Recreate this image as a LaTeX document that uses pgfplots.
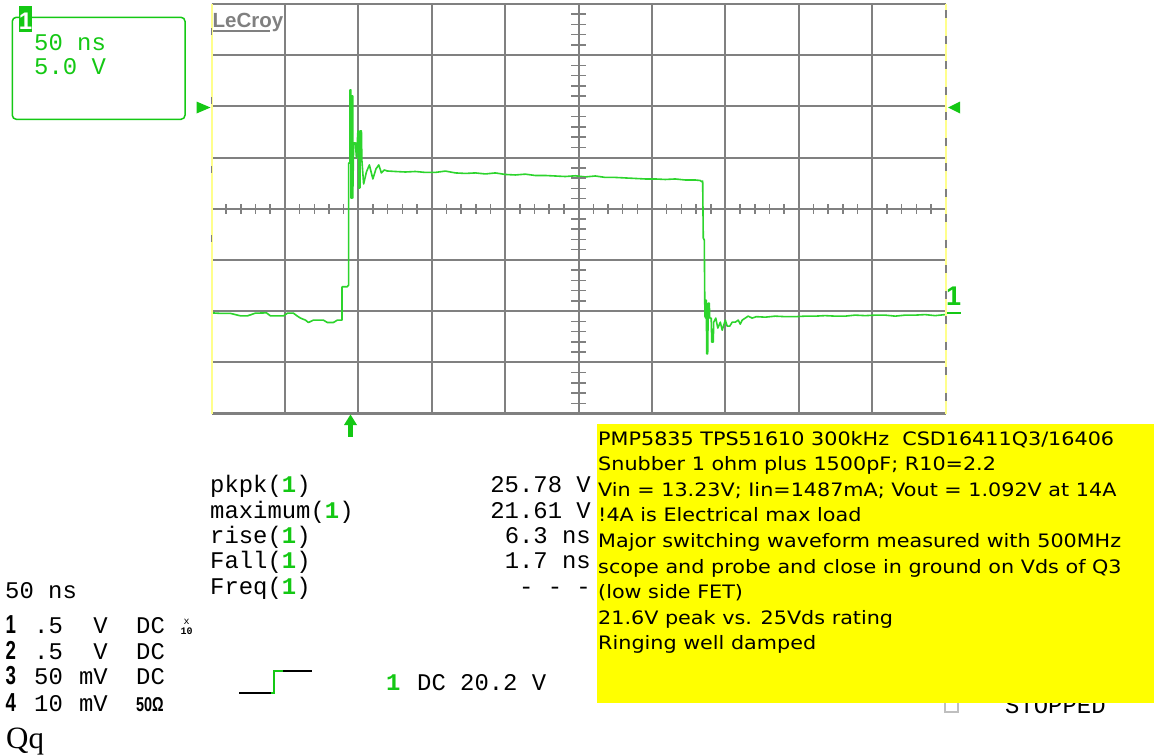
\documentclass[border=0pt]{standalone}
\usepackage{pgfplots}
\pgfplotsset{compat=1.18}
\usepackage{fontspec}
\setmainfont{Liberation Sans}
\newfontfamily\scope{Liberation Mono}
\newfontfamily\boxfont[FakeStretch=1.12]{DejaVu Sans}
\newfontfamily\serifq{Liberation Serif}
\newfontfamily\numfont[FakeStretch=0.72]{Liberation Sans}
\definecolor{gridgray}{RGB}{128,128,128}
\definecolor{bordyellow}{RGB}{255,255,140}
\definecolor{tracegreen}{RGB}{45,212,45}
\definecolor{mkgreen}{RGB}{20,200,20}
\definecolor{boxyellow}{RGB}{255,255,0}
\begin{document}
\begin{tikzpicture}
\useasboundingbox[fill=white] (0pt,0pt) rectangle (1154pt,-755pt);
% grid / axis
\begin{axis}[at={(211.5pt,-413.5pt)}, anchor=south west, scale only axis,
  width=734.2pt, height=409.5pt,
  xmin=-250, xmax=250, ymin=-10, ymax=30,
  xtick={-200,-150,...,200}, ytick={-5,0,...,25},
  xticklabels={}, yticklabels={}, major tick length=0pt,
  grid=major, grid style={gridgray, line width=2.1pt},
  axis line style={draw=none}, clip=false]
\draw[gridgray, line width=2.1pt] (rel axis cs:0,1) -- (rel axis cs:1,1);
\draw[gridgray, line width=2.1pt] (rel axis cs:0,0) -- (rel axis cs:1,0);
\addplot[tracegreen, line width=1.6pt, line join=round] coordinates {
(-249.7,-0.17) (-243.9,-0.22) (-237.1,-0.22) (-230.3,-0.46) (-225.5,-0.46)
(-220.1,-0.20) (-212.6,-0.17) (-209.9,-0.46) (-201.0,-0.46) (-198.3,-0.20)
(-194.2,-0.20) (-191.5,-0.49) (-189.4,-0.68) (-186.0,-0.88) (-184.0,-1.11)
(-180.6,-0.88) (-173.8,-0.88) (-171.1,-1.11) (-167.0,-1.11) (-164.3,-0.88)
(-161.1,-0.88) (-161.1,2.38) (-157.6,2.38) (-156.6,2.54) (-156.6,14.47)
(-155.7,14.47) (-155.7,21.61) (-155.1,21.61) (-155.1,11.05) (-154.4,11.05)
(-154.4,21.03) (-153.8,21.03) (-153.8,11.05) (-153.2,16.43) (-152.0,16.43)
(-151.3,14.96) (-150.3,17.60) (-149.8,17.60) (-149.8,12.03) (-148.9,12.03)
(-148.9,17.60) (-147.9,17.60) (-147.6,14.77) (-146.4,12.42) (-144.5,13.59)
(-142.5,14.28) (-140.1,12.91) (-138.0,13.89) (-136.1,14.28) (-134.3,13.50)
(-132.3,13.79) (-130.4,13.69)
(-124.8,13.64) (-118.0,13.59) (-111.2,13.64) (-104.4,13.55) (-97.5,13.55)
(-90.7,13.68) (-83.9,13.50) (-77.1,13.45) (-70.3,13.50) (-63.5,13.40)
(-56.7,13.50) (-49.9,13.35) (-43.1,13.30) (-36.3,13.38) (-29.5,13.25)
(-22.7,13.25) (-15.9,13.20) (-9.1,13.15) (-2.2,13.22) (4.6,13.11)
(11.4,13.20) (18.2,13.06) (25.0,13.06) (31.8,13.01) (38.6,12.96)
(45.4,12.91) (52.2,12.91) (59.0,12.86) (65.8,12.91) (72.6,12.81)
(79.4,12.81) (82.8,12.76) (84.2,12.62) (84.5,12.71)
(84.9,7.14) (85.6,6.94) (86.0,-0.49) (86.6,-0.68) (86.9,1.08)
(87.3,-4.17) (87.9,-4.17) (88.3,0.78) (89.0,0.78) (89.3,-0.68)
(90.3,-0.68) (90.7,-3.03) (91.7,-3.03) (92.0,-1.08) (93.4,-0.68)
(94.8,-1.66) (96.5,-1.08) (97.8,-1.86) (99.9,-0.88) (101.2,-1.47)
(102.9,-1.47) (104.6,-1.08) (106.7,-1.08) (108.7,-0.88) (110.1,-1.27)
(111.4,-0.88) (113.5,-0.68) (115.5,-0.49) (118.2,-0.68) (121.0,-0.54)
(127.1,-0.59) (133.9,-0.49) (140.7,-0.54) (147.5,-0.54) (154.3,-0.49)
(161.1,-0.49) (167.9,-0.44) (174.7,-0.49) (181.5,-0.49) (188.3,-0.39)
(195.2,-0.44) (202.0,-0.39) (208.8,-0.39) (215.6,-0.49) (222.4,-0.39)
(229.2,-0.39) (236.0,-0.34) (242.8,-0.44) (249.6,-0.34)
};
\end{axis}
% yellow side borders with gray dashes
\draw[bordyellow, line width=2pt] (211.5pt,-4pt) -- (211.5pt,-413.5pt);
\draw[bordyellow, line width=2pt] (945.7pt,-4pt) -- (945.7pt,-413.5pt);
\draw[gridgray, line width=1.8pt, dash pattern=on 8pt off 17.5pt] (945.7pt,-10pt) -- (945.7pt,-405pt);
\draw[gridgray, line width=1.8pt, dash pattern=on 7pt off 62pt] (211.5pt,-28pt) -- (211.5pt,-300pt);
% centre cross minor ticks
\foreach \k in {1,...,49}{
  \pgfmathtruncatemacro{\r}{mod(\k,5)}
  \pgfmathsetmacro{\xx}{211.5+\k*14.684}
  \ifnum\r=0\relax\else
  \draw[gridgray, line width=1.5pt] (\xx pt,-204pt) -- (\xx pt,-214pt);
  \fi}
\foreach \k in {1,...,39}{
  \pgfmathtruncatemacro{\r}{mod(\k,5)}
  \pgfmathsetmacro{\yv}{-4-\k*10.238}
  \ifnum\r=0\relax\else
  \draw[gridgray, line width=1.5pt] (571pt,\yv pt) -- (586pt,\yv pt);
  \fi}
% LeCroy logo
\node[anchor=base west, inner sep=0pt, text=gridgray] at (212.5pt,-27pt) {\fontsize{20.5}{20}\selectfont\bfseries LeCroy};
\draw[gridgray, line width=2pt] (213pt,-31pt) -- (270pt,-31pt);
% trigger level arrows
\fill[mkgreen] (196.5pt,-101.5pt) -- (210.5pt,-107.5pt) -- (196.5pt,-113.5pt) -- cycle;
\fill[mkgreen] (960pt,-101.5pt) -- (948pt,-107.5pt) -- (960pt,-113.5pt) -- cycle;
% ground marker
\node[anchor=base west, inner sep=0pt, text=mkgreen] at (946pt,-305pt) {\fontsize{27}{27}\selectfont\bfseries 1};
\draw[mkgreen, line width=2.2pt] (947pt,-313pt) -- (961pt,-313pt);
% trigger position arrow
\fill[mkgreen] (344pt,-425pt) -- (350.5pt,-414.5pt) -- (357pt,-425pt) -- cycle;
\fill[mkgreen] (348pt,-424pt) rectangle (353pt,-437pt);
% top-left channel box
\draw[mkgreen, line width=1.5pt, rounded corners=4pt] (12.3pt,-17.3pt) rectangle (185pt,-119.3pt);
\fill[mkgreen] (19.3pt,-6pt) rectangle (31.7pt,-31.5pt);
\node[anchor=base, inner sep=0pt, text=white] at (25.5pt,-29pt) {\fontsize{24}{24}\selectfont\bfseries 1};
\node[anchor=base west, inner sep=0pt, text=mkgreen] at (34pt,-50pt) {\scope\fontsize{23.9}{24}\selectfont 50 ns};
\node[anchor=base west, inner sep=0pt, text=mkgreen] at (34pt,-74pt) {\scope\fontsize{23.9}{24}\selectfont 5.0 V};
% measurements
\newcommand{\g}{\textcolor{mkgreen}{\bfseries 1}}
\foreach \t/\v/\yy in {pkpk(\g)/25.78 V/492.5, maximum(\g)/21.61 V/518, rise(\g)/6.3 ns/543.5, Fall(\g)/1.7 ns/568.5, Freq(\g)/- - -/594}{
  \node[anchor=base west, inner sep=0pt] at (210pt,-\yy pt) {\scope\fontsize{23.9}{24}\selectfont \t};
  \node[anchor=base east, inner sep=0pt] at (591pt,-\yy pt) {\scope\fontsize{23.9}{24}\selectfont \v};
}
% left bottom settings
\node[anchor=base west, inner sep=0pt] at (5pt,-598pt) {\scope\fontsize{23.9}{24}\selectfont 50 ns};
\foreach \n/\a/\b/\yy in {1/.5/V/633, 2/.5/V/659, 3/50/mV/684.5, 4/10/mV/711}{
  \node[anchor=base west, inner sep=0pt] at (5.5pt,-\yy pt) {\numfont\fontsize{26}{26}\selectfont\bfseries \n};
  \node[anchor=base west, inner sep=0pt] at (34pt,-\yy pt) {\scope\fontsize{23.9}{24}\selectfont \a};
  \node[anchor=base east, inner sep=0pt] at (108pt,-\yy pt) {\scope\fontsize{23.9}{24}\selectfont \b};
}
\foreach \yy in {633,659,684.5}{
  \node[anchor=base west, inner sep=0pt] at (136pt,-\yy pt) {\scope\fontsize{23.9}{24}\selectfont DC};
}
\node[anchor=base west, inner sep=0pt] at (136pt,-711pt) {\numfont\fontsize{20}{20}\selectfont\bfseries 50Ω};
\node[anchor=base, inner sep=0pt] at (186.5pt,-624pt) {\scope\fontsize{10}{10}\selectfont x};
\node[anchor=base, inner sep=0pt] at (186.5pt,-634pt) {\scope\fontsize{10}{10}\selectfont\bfseries 10};
% trigger symbol
\draw[black, line width=1.8pt] (239pt,-692.7pt) -- (271pt,-692.7pt);
\draw[mkgreen, line width=2.2pt] (271pt,-692.7pt) -- (274pt,-692.7pt) -- (274pt,-670.7pt) -- (283pt,-670.7pt);
\draw[black, line width=1.8pt] (283pt,-670.7pt) -- (312pt,-670.7pt);
\node[anchor=base west, inner sep=0pt, text=mkgreen] at (386pt,-690pt) {\scope\fontsize{23.9}{24}\selectfont\bfseries 1};
\node[anchor=base west, inner sep=0pt] at (417pt,-690pt) {\scope\fontsize{23.9}{24}\selectfont DC 20.2 V};
% STOPPED (partly hidden)
\draw[gray!50, line width=1.4pt] (945pt,-702pt) rectangle (958pt,-712pt);
\node[anchor=base west, inner sep=0pt] at (1005pt,-713pt) {\scope\fontsize{23.9}{24}\selectfont STOPPED};
% yellow annotation box
\fill[boxyellow] (597.2pt,-424.3pt) rectangle (1154pt,-703.3pt);
\foreach \t [count=\i from 0] in {PMP5835 TPS51610 300kHz \ CSD16411Q3/16406,
  Snubber 1 ohm plus 1500pF; R10=2.2,
  Vin = 13.23V; Iin=1487mA; Vout = 1.092V at 14A,
  !4A is Electrical max load,
  Major switching waveform measured with 500MHz,
  scope and probe and close in ground on Vds of Q3,
  (low side FET),
  21.6V peak vs. 25Vds rating,
  Ringing well damped}{
  \pgfmathsetmacro{\yb}{-445-\i*25.6}
  \node[anchor=base west, inner sep=0pt] at (598pt,\yb pt) {\boxfont\fontsize{18.5}{19}\selectfont \t};
}
% Qq
\node[anchor=base west, inner sep=0pt] at (6pt,-748pt) {\serifq\fontsize{31}{31}\selectfont Qq};
\end{tikzpicture}
\end{document}
